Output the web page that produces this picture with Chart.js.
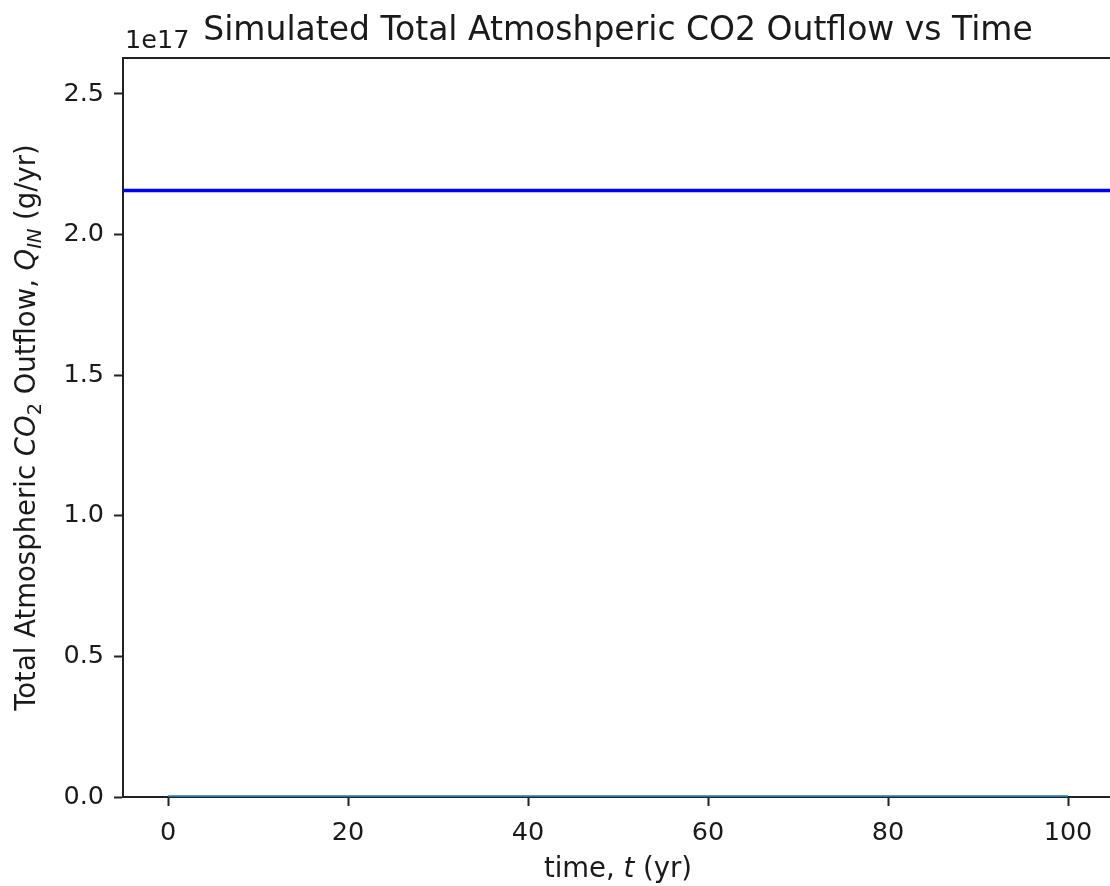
<!DOCTYPE html>
<html>
<head>
<meta charset="utf-8">
<script src="https://cdn.jsdelivr.net/npm/chart.js@4"></script>
<style>
  html, body { margin: 0; padding: 0; background: #fff; overflow: hidden; }
  #wrap { width: 1110px; height: 886px; overflow: hidden; }
  canvas { display: block; }
</style>
</head>
<body>
<div id="wrap"><canvas id="chart" width="1116" height="886" style="width:1116px;height:886px"></canvas></div>
<script>
// data
const years = [0, 10, 20, 30, 40, 50, 60, 70, 80, 90, 100];
const outflow = [0, 0, 0, 0, 0, 0, 0, 0, 0, 0, 0];
const inflowLevel = 2.157e17;   // the horizontal blue line
const xLimits = [-5, 105];
const yLimits = [0, 2.628e17];
const xTickValues = [0, 20, 40, 60, 80, 100];
const yTickValues = [0, 0.5e17, 1.0e17, 1.5e17, 2.0e17, 2.5e17];

const FONT = "'DejaVu Sans', sans-serif";
const TEXT = '#1a1a1a';
const AXIS = '#222';
const TICK_SIZE = 25.5;
const LABEL_SIZE = 27.5;

// draws a list of {t, italic, sub} pieces centred on (0,0)
function richText(ctx, parts, size) {
    const widths = parts.map(p => {
        ctx.font = (p.italic ? 'italic ' : '') + (p.sub ? size * 0.7 : size) + 'px ' + FONT;
        return ctx.measureText(p.t).width;
    });
    let x = -widths.reduce((a, b) => a + b, 0) / 2;
    parts.forEach((p, i) => {
        ctx.font = (p.italic ? 'italic ' : '') + (p.sub ? size * 0.7 : size) + 'px ' + FONT;
        ctx.fillText(p.t, x, p.sub ? size * 0.22 : 0);
        x += widths[i];
    });
}

const labels = {
    id: 'labels',
    afterDraw(chart) {
        const ctx = chart.ctx;
        const area = chart.chartArea;
        ctx.save();
        // top spine
        ctx.strokeStyle = AXIS;
        ctx.lineWidth = 2;
        ctx.beginPath();
        ctx.moveTo(area.left, area.top);
        ctx.lineTo(area.right, area.top);
        ctx.stroke();

        ctx.fillStyle = TEXT;
        ctx.textBaseline = 'alphabetic';
        const cx = (area.left + area.right) / 2;

        ctx.textAlign = 'center';
        ctx.font = '33px ' + FONT;
        ctx.fillText('Simulated Total Atmoshperic CO2 Outflow vs Time', cx, 40);

        ctx.textAlign = 'left';
        ctx.font = TICK_SIZE + 'px ' + FONT;
        ctx.fillText('1e17', area.left + 2, 48);

        ctx.save();
        ctx.translate(cx, 877);
        richText(ctx, [{t: 'time, '}, {t: 't', italic: true}, {t: ' (yr)'}], LABEL_SIZE);
        ctx.restore();

        ctx.save();
        ctx.translate(34.5, (area.top + area.bottom) / 2);
        ctx.rotate(-Math.PI / 2);
        richText(ctx, [
            {t: 'Total Atmospheric '},
            {t: 'CO', italic: true},
            {t: '2', sub: true},
            {t: ' Outflow, '},
            {t: 'Q', italic: true},
            {t: 'IN', italic: true, sub: true},
            {t: ' (g/yr)'}
        ], LABEL_SIZE);
        ctx.restore();
        ctx.restore();
    }
};

new Chart(document.getElementById('chart'), {
    type: 'line',
    data: {
        datasets: [
            {
                data: years.map((y, i) => ({x: y, y: outflow[i]})),
                borderColor: '#1f77b4',
                borderWidth: 3.5,
                pointRadius: 0,
                clip: 0
            },
            {
                data: xLimits.map(x => ({x: x, y: inflowLevel})),
                borderColor: '#0000ff',
                borderWidth: 3.5,
                pointRadius: 0,
                clip: 0
            }
        ]
    },
    options: {
        responsive: false,
        animation: false,
        layout: { padding: { top: 58, right: 3, left: 0, bottom: 0 } },
        plugins: { legend: { display: false }, tooltip: { enabled: false } },
        scales: {
            x: {
                type: 'linear',
                min: xLimits[0],
                max: xLimits[1],
                afterBuildTicks: s => { s.ticks = xTickValues.map(v => ({value: v})); },
                afterFit: s => { s.height = 89; },
                ticks: {
                    color: TEXT,
                    font: { family: FONT, size: TICK_SIZE },
                    padding: 12,
                    maxRotation: 0,
                    autoSkip: false,
                    callback: v => String(v)
                },
                grid: { drawOnChartArea: false, tickLength: 9, tickWidth: 2, tickColor: AXIS },
                border: { color: AXIS, width: 2 }
            },
            y: {
                min: yLimits[0],
                max: yLimits[1],
                afterBuildTicks: s => { s.ticks = yTickValues.map(v => ({value: v})); },
                afterFit: s => { s.width = 123; },
                ticks: {
                    color: TEXT,
                    font: { family: FONT, size: TICK_SIZE },
                    padding: 10,
                    autoSkip: false,
                    callback: v => (v / 1e17).toFixed(1)
                },
                grid: { drawOnChartArea: false, tickLength: 9, tickWidth: 2, tickColor: AXIS },
                border: { color: AXIS, width: 2 }
            }
        }
    },
    plugins: [labels]
});
</script>
</body>
</html>
